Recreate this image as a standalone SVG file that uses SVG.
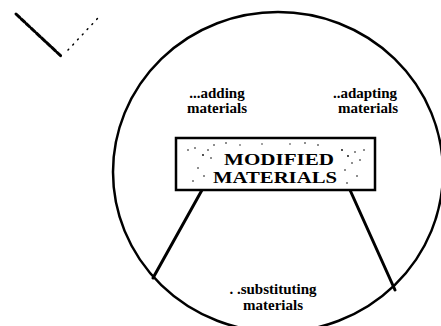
<svg xmlns="http://www.w3.org/2000/svg" width="441" height="326" viewBox="0 0 441 326">
<style>
.lbl{font-family:"Liberation Serif","DejaVu Serif","Times New Roman",serif;font-size:15px;font-weight:bold;fill:#000;text-anchor:middle}
.ttl{font-family:"Liberation Serif","DejaVu Serif","Times New Roman",serif;font-size:17px;font-weight:bold;fill:#000;text-anchor:middle}
.ln{stroke:#000;fill:none;stroke-linecap:round}
.dot{fill:#000}
</style>
<rect width="441" height="326" fill="#fff"/>
<g id="scribble">
<path class="ln" d="M16 14 L62 57" stroke-width="3" stroke-dasharray="5 2"/>
<path class="ln" d="M68 50 L98 18" stroke-width="1.5" stroke-dasharray="1 6"/>
</g>
<g id="circle">
<ellipse class="ln" cx="278" cy="172" rx="165" ry="160" stroke-width="2.5"/>
</g>
<g id="connectors">
<line class="ln" x1="202" y1="190" x2="153" y2="278" stroke-width="3"/>
<line class="ln" x1="350" y1="190" x2="395" y2="290" stroke-width="3"/>
</g>
<g id="adding">
<text class="lbl" x="217" y="98">...adding</text>
<text class="lbl" x="217" y="113">materials</text>
</g>
<g id="adapting">
<text class="lbl" x="365" y="98">..adapting</text>
<text class="lbl" x="368" y="113">materials</text>
</g>
<g id="modified">
<rect x="176" y="138" width="199" height="52" fill="#fff" stroke="#000" stroke-width="2.5"/>
<g class="dot">
<circle cx="188" cy="150" r="0.8"/><circle cx="195" cy="148" r="0.8"/><circle cx="203" cy="155" r="0.9"/><circle cx="208" cy="150" r="0.8"/><circle cx="211" cy="158" r="0.8"/><circle cx="198" cy="168" r="0.8"/><circle cx="204" cy="176" r="0.8"/><circle cx="193" cy="181" r="0.8"/><circle cx="214" cy="145" r="0.8"/><circle cx="226" cy="143" r="0.8"/><circle cx="240" cy="145" r="0.7"/><circle cx="262" cy="144" r="0.7"/><circle cx="290" cy="144" r="0.7"/><circle cx="305" cy="143" r="0.8"/><circle cx="318" cy="145" r="0.8"/><circle cx="342" cy="150" r="0.9"/><circle cx="348" cy="156" r="0.9"/><circle cx="355" cy="152" r="0.8"/><circle cx="352" cy="163" r="0.8"/><circle cx="360" cy="160" r="0.8"/><circle cx="345" cy="170" r="0.8"/><circle cx="357" cy="176" r="0.8"/><circle cx="364" cy="150" r="0.8"/><circle cx="347" cy="183" r="0.8"/>
</g>
<text class="ttl" x="279" y="165" textLength="110" lengthAdjust="spacingAndGlyphs">MODIFIED</text>
<text class="ttl" x="275" y="183" textLength="124" lengthAdjust="spacingAndGlyphs">MATERIALS</text>
</g>
<g id="substituting">
<text class="lbl" x="273" y="294">. .substituting</text>
<text class="lbl" x="273" y="310">materials</text>
</g>
</svg>
